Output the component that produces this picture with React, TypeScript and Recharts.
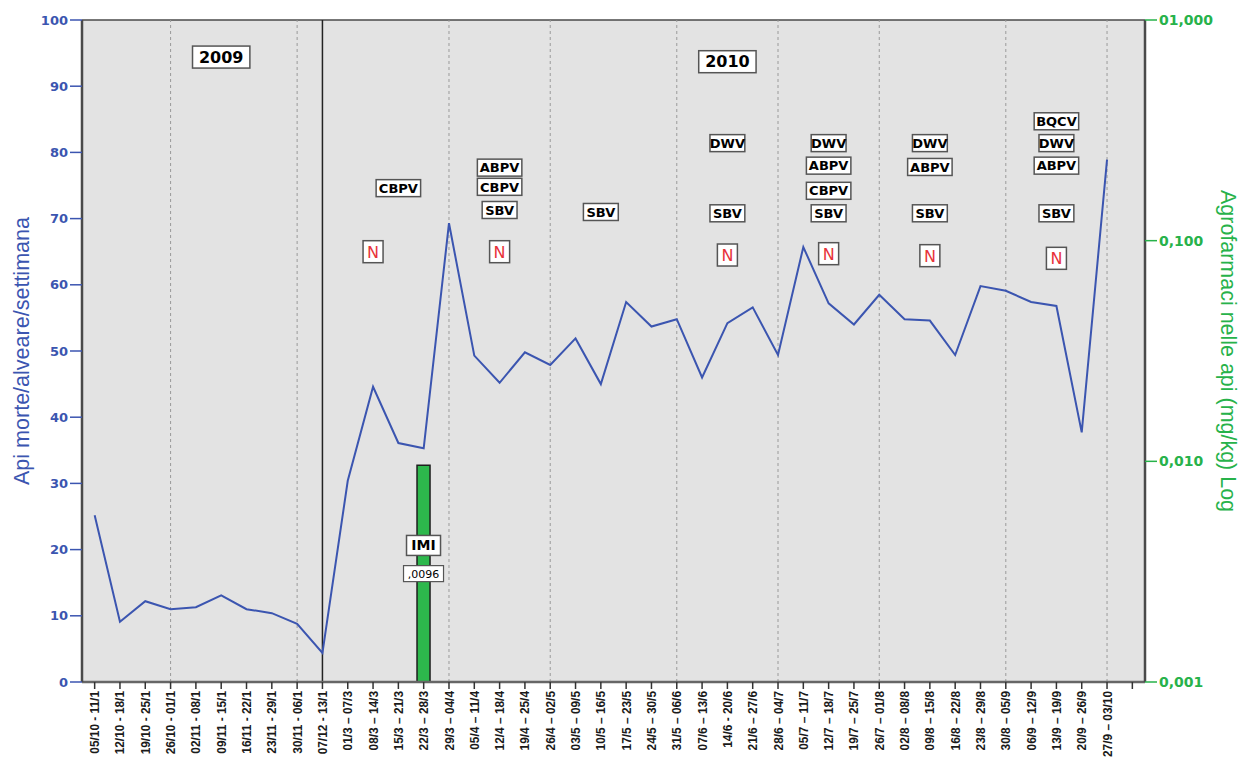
import React from 'react'
import { ComposedChart, Line, Bar, XAxis, YAxis, CartesianGrid, ReferenceLine, ReferenceDot, LabelList } from 'recharts'

// settimane di campionamento (l'ultima è vuota: SPSS lascia un tick libero a destra)
const weeks = [
  '05/10 - 11/1', '12/10 - 18/1', '19/10 - 25/1', '26/10 - 01/1', '02/11 - 08/1',
  '09/11 - 15/1', '16/11 - 22/1', '23/11 - 29/1', '30/11 - 06/1', '07/12 - 13/1',
  '01/3 – 07/3', '08/3 – 14/3', '15/3 – 21/3', '22/3 – 28/3', '29/3 – 04/4',
  '05/4 – 11/4', '12/4 – 18/4', '19/4 – 25/4', '26/4 – 02/5', '03/5 – 09/5',
  '10/5 – 16/5', '17/5 – 23/5', '24/5 – 30/5', '31/5 – 06/6', '07/6 – 13/6',
  '14/6 - 20/6', '21/6 – 27/6', '28/6 – 04/7', '05/7 – 11/7', '12/7 – 18/7',
  '19/7 – 25/7', '26/7 – 01/8', '02/8 – 08/8', '09/8 – 15/8', '16/8 – 22/8',
  '23/8 – 29/8', '30/8 – 05/9', '06/9 – 12/9', '13/9 – 19/9', '20/9 – 26/9',
  '27/9 – 03/10', '',
]

const deadBees = [
  25.2, 9.1, 12.2, 11.0, 11.3, 13.1, 11.0, 10.4, 8.8, 4.4,
  30.4, 44.6, 36.1, 35.3, 69.3, 49.3, 45.2, 49.8, 47.9, 51.9,
  45.0, 57.4, 53.7, 54.8, 46.0, 54.2, 56.6, 49.4, 65.7, 57.2,
  54.0, 58.5, 54.8, 54.6, 49.4, 59.8, 59.1, 57.4, 56.8, 37.7,
  78.9, null,
]

// residuo di agrofarmaci (asse destro, log)
const residueWeek = 13
const residueValue = 0.0096
const residueCompound = 'IMI'

const logTicks = [0.001, 0.01, 0.1, 1]
const logTickLabels = ['0,001', '0,010', '0,100', '01,000']

const boundaryWeeks = [3, 8, 14, 18, 23, 27, 31, 36, 40]
const yearStartWeek = 9

const yearTags: [number, string, number][] = [
  [5, '2009', 94.4],
  [25, '2010', 93.7],
]

// virus rilevati: [settimana, virus, posizione sull'asse sinistro]
const virusTags: [number, string, number][] = [
  [12, 'CBPV', 74.6],
  [16, 'ABPV', 77.7], [16, 'CBPV', 74.8], [16, 'SBV', 71.3],
  [20, 'SBV', 71.0],
  [25, 'DWV', 81.4], [25, 'SBV', 70.8],
  [29, 'DWV', 81.4], [29, 'ABPV', 78.0], [29, 'CBPV', 74.2], [29, 'SBV', 70.8],
  [33, 'DWV', 81.4], [33, 'ABPV', 77.8], [33, 'SBV', 70.8],
  [38, 'BQCV', 84.7], [38, 'DWV', 81.4], [38, 'ABPV', 78.0], [38, 'SBV', 70.8],
]

// Nosema
const nosemaTags: [number, number][] = [
  [11, 65.0], [16, 65.0], [25, 64.5], [29, 64.7], [33, 64.4], [38, 64.0],
]

const data = weeks.map((w, i) => ({
  week: w,
  dead: deadBees[i],
  residue: i === residueWeek ? residueValue : null,
}))

const BLUE = '#3b55b0'
const GREEN = '#27b24a'
const BORDER = '#4a4a4a'
const boxFont = "'DejaVu Sans', Verdana, sans-serif"
const arial = "'Liberation Sans', Arial, sans-serif"

// niente Arial Narrow: Liberation Sans compresso lungo la direzione del testo
const WeekTick = ({ x, y, payload }: any) => (
  <g transform={`translate(${x},${y}) rotate(-90) scale(0.88,1)`}>
    <text x={0} y={0} dy={4.5} textAnchor="end" fontFamily={arial} fontSize={13.5} fontWeight={700} fill="#1a1a1a">
      {payload.value}
    </text>
  </g>
)

const AxisTitle = ({ viewBox, title, shift, rot, color, len }: any) => {
  const cx = viewBox.x + viewBox.width / 2 + shift
  const cy = viewBox.y + viewBox.height / 2
  return (
    <g transform={`translate(${cx},${cy}) rotate(${rot})`}>
      <text
        x={0}
        y={0}
        dy={7}
        textAnchor="middle"
        fontFamily={arial}
        fontSize={22}
        fill={color}
        textLength={len}
        lengthAdjust="spacingAndGlyphs"
      >
        {title}
      </text>
    </g>
  )
}

const tagBox = (text: string, fontSize: number, padX: number, h: number) => (props: any) => {
  const w = text.length * fontSize * 0.74 + padX * 2
  return (
    <g>
      <rect x={props.cx - w / 2} y={props.cy - h / 2} width={w} height={h} fill="#fff" stroke="#555" strokeWidth={1.5} />
      <text x={props.cx} y={props.cy} dy={fontSize * 0.36} textAnchor="middle" fontFamily={boxFont} fontWeight={700} fontSize={fontSize} fill="#000">
        {text}
      </text>
    </g>
  )
}

const nosemaBox = (props: any) => (
  <g>
    <rect x={props.cx - 10} y={props.cy - 11} width={20} height={22} fill="#fff" stroke="#555" strokeWidth={1.5} />
    <text x={props.cx} y={props.cy} dy={6} textAnchor="middle" fontFamily={boxFont} fontSize={16} fill="#e8323a">
      N
    </text>
  </g>
)

const ResidueLabel = (props: any) => {
  const { x, y, width, height, value } = props
  if (value == null) return null
  const cx = x + width / 2
  const y1 = y + height * 0.37
  const y2 = y + height * 0.5
  const txt = value.toFixed(4).replace('0.', ',')
  return (
    <g>
      <rect x={cx - 17} y={y1 - 10} width={34} height={20} fill="#fff" stroke="#555" strokeWidth={1.5} />
      <text x={cx} y={y1} dy={5} textAnchor="middle" fontFamily={boxFont} fontWeight={700} fontSize={14} fill="#000">
        {residueCompound}
      </text>
      <rect x={cx - 20} y={y2 - 8} width={40} height={16} fill="#fff" stroke="#555" strokeWidth={1.2} />
      <text x={cx} y={y2} dy={4} textAnchor="middle" fontFamily={boxFont} fontSize={11} fill="#000">
        {txt}
      </text>
    </g>
  )
}

export default function App() {
  return (
    <div style={{ position: 'absolute', left: 0, top: 0, width: 1241, height: 758, background: '#fff' }}>
      <ComposedChart width={1241} height={758} data={data} margin={{ top: 20, right: 0, bottom: 0, left: 0 }}>
        <CartesianGrid horizontal={false} vertical={false} fill="#e3e3e3" yAxisId="left" />
        <XAxis
          dataKey="week"
          interval={0}
          height={76}
          tick={<WeekTick />}
          tickSize={7}
          tickLine={{ stroke: '#333', strokeWidth: 1.5 }}
          axisLine={{ stroke: '#666', strokeWidth: 2.5 }}
        />
        <YAxis
          yAxisId="left"
          width={82}
          domain={[0, 100]}
          ticks={[0, 10, 20, 30, 40, 50, 60, 70, 80, 90, 100]}
          tick={{ fill: BLUE, fontSize: 13, fontWeight: 700, fontFamily: boxFont }}
          tickSize={12}
          tickLine={{ stroke: BLUE, strokeWidth: 1.5 }}
          axisLine={{ stroke: BORDER, strokeWidth: 2.5 }}
          label={<AxisTitle title="Api morte/alveare/settimana" shift={-19} rot={-90} color={BLUE} len={268} />}
        />
        <YAxis
          yAxisId="right"
          orientation="right"
          width={96}
          scale="log"
          domain={[0.001, 1]}
          allowDataOverflow
          ticks={logTicks}
          tickFormatter={(v: number) => logTickLabels[logTicks.indexOf(v)] ?? String(v)}
          tick={{ fill: GREEN, fontSize: 14, fontWeight: 700, fontFamily: boxFont, textAnchor: 'start' }}
          tickSize={12}
          tickLine={{ stroke: GREEN, strokeWidth: 1.5 }}
          axisLine={{ stroke: BORDER, strokeWidth: 2.5 }}
          label={<AxisTitle title="Agrofarmaci nelle api (mg/kg) Log" shift={35} rot={90} color={GREEN} len={322} />}
        />
        <ReferenceLine yAxisId="left" y={100} stroke={BORDER} strokeWidth={1.5} />
        {boundaryWeeks.map(i => (
          <ReferenceLine key={i} yAxisId="left" x={weeks[i]} stroke="#9a9a9a" strokeDasharray="3 3" />
        ))}
        <ReferenceLine yAxisId="left" x={weeks[yearStartWeek]} stroke="#222" strokeWidth={1.5} />
        <Bar yAxisId="right" dataKey="residue" barSize={13} fill="#2db84c" stroke="#1e1e1e" strokeWidth={1.5} isAnimationActive={false}>
          <LabelList dataKey="residue" content={<ResidueLabel />} />
        </Bar>
        <Line
          yAxisId="left"
          type="linear"
          dataKey="dead"
          stroke={BLUE}
          strokeWidth={2}
          dot={false}
          activeDot={false}
          isAnimationActive={false}
        />
        {yearTags.map(([w, t, v]) => (
          <ReferenceDot key={t} yAxisId="left" x={weeks[w]} y={v} shape={tagBox(t, 16, 5, 22)} />
        ))}
        {virusTags.map(([w, t, v], k) => (
          <ReferenceDot key={k} yAxisId="left" x={weeks[w]} y={v} shape={tagBox(t, 13, 3, 17)} />
        ))}
        {nosemaTags.map(([w, v]) => (
          <ReferenceDot key={w} yAxisId="left" x={weeks[w]} y={v} shape={nosemaBox} />
        ))}
      </ComposedChart>
    </div>
  )
}
